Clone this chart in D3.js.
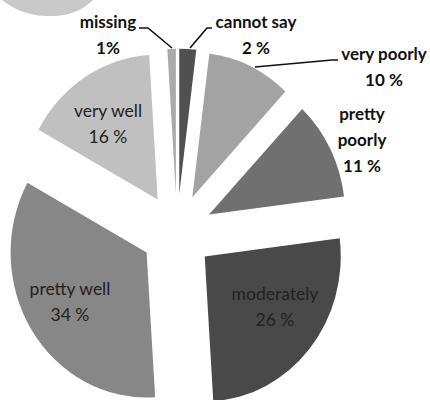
<!DOCTYPE html>
<html>
<head>
<meta charset="utf-8">
<script src="https://cdn.jsdelivr.net/npm/d3@7"></script>
<style>
  body { margin: 0; background: #fff; }
  svg { display: block; font-family: Lato, "Open Sans", sans-serif; }
</style>
</head>
<body>
<svg id="chart" width="430" height="400"></svg>
<script>
// slices, clockwise from 12 o'clock
var categories = ["cannot say", "very poorly", "pretty poorly", "moderately", "pretty well", "very well", "missing"];
var values = [2, 10, 11, 26, 34, 16, 1];
var fills = ["#505050", "#a3a3a3", "#707070", "#494949", "#878787", "#c0c0c0", "#aaaaaa"];

// label text lines per slice
var labelLines = [["cannot say", "2 %"], ["very poorly", "10 %"], ["pretty", "poorly", "11 %"], ["moderately", "26 %"], ["pretty well", "34 %"], ["very well", "16 %"], ["missing", "1%"]];

// layout
var cx = 177, cy = 232, rx = 136, sy = 1.066, explode = 36;
var labelPos = [
    {x: 256, y: 28, bold: true},
    {x: 384, y: 60, bold: true},
    {x: 362, y: 120, bold: true},
    {x: 275, y: 300, bold: false},
    {x: 70, y: 295, bold: false},
    {x: 108, y: 117, bold: false},
    {x: 108, y: 28, bold: true}
];
var leaders = [
    [[212, 28], [207, 28], [190, 48]],
    [[255, 67], [332, 60], [338, 60]],
    null, null, null, null,
    [[139, 28], [148, 28], [172, 48]]
];

var svg = d3.select("#chart");

// cropped shape at top-left corner
svg.append("path")
    .attr("d", "M2,0 C14,9 26,15 45,16 C65,17 81,12 93,0 Z")
    .attr("fill", "#c9c9c9");

var data = categories.map(function(c, i) { return {name: c, value: values[i], i: i}; });
var pie = d3.pie().sort(null).value(function(d) { return d.value; });
var arc = d3.arc().innerRadius(0).outerRadius(rx);
var arcs = pie(data);

arcs.forEach(function(a, i) {
    var mid = (a.startAngle + a.endAngle) / 2;
    var tx = cx + explode * Math.sin(mid);
    var ty = cy - explode * Math.cos(mid) * sy;
    svg.append("path")
        .attr("d", arc(a))
        .attr("fill", fills[i])
        .attr("transform", "translate(" + tx + "," + ty + ") scale(1," + sy + ")");
});

var line = d3.line();
leaders.forEach(function(l) {
    if (!l) return;
    svg.append("path").attr("d", line(l)).attr("fill", "none").attr("stroke", "#111").attr("stroke-width", 1.6);
});

labelLines.forEach(function(lines, i) {
    var p = labelPos[i];
    var t = svg.append("text")
        .attr("text-anchor", "middle")
        .attr("font-size", p.bold ? 17 : 17.5)
        .attr("font-weight", p.bold ? "bold" : "normal")
        .attr("fill", p.bold ? "#111" : "#222");
    lines.forEach(function(s, k) {
        t.append("tspan").attr("x", p.x).attr("y", p.y + k * 26).text(s);
    });
});
</script>
</body>
</html>
